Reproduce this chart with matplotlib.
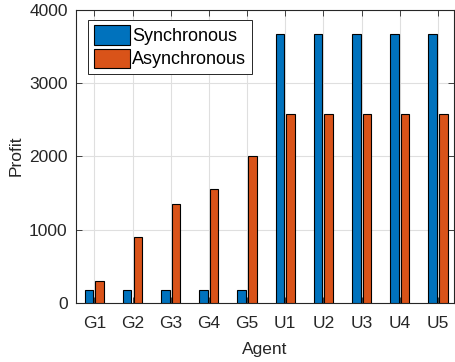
import numpy as np
import matplotlib
matplotlib.use('Agg')
from matplotlib import pyplot as plt

agents = ['G1', 'G2', 'G3', 'G4', 'G5', 'U1', 'U2', 'U3', 'U4', 'U5']
synchronous = [180, 180, 180, 180, 180, 3670, 3670, 3670, 3670, 3670]
asynchronous = [300, 900, 1350, 1550, 2000, 2570, 2570, 2570, 2570, 2570]

plt.rcParams['font.family'] = ['Liberation Sans', 'DejaVu Sans']
plt.rcParams['font.size'] = 12.5

axis_color = '#262626'

fig = plt.figure(figsize=(4.56, 3.62), dpi=100)
ax = fig.add_axes([76 / 456, 1 - 303 / 362, 378 / 456, 293.5 / 362])

x = np.arange(1, len(agents) + 1)
w = 0.225
off = 0.139
ax.bar(x - off, synchronous, w, color='#0072BD', edgecolor='black',
       linewidth=0.8, label='Synchronous', zorder=3)
ax.bar(x + off, asynchronous, w, color='#D95319', edgecolor='black',
       linewidth=0.8, label='Asynchronous', zorder=3)

ax.set_xlim(0.52, 10.42)
ax.set_ylim(0, 4000)
ax.set_xticks(x)
ax.set_xticklabels(agents)
ax.set_yticks([0, 1000, 2000, 3000, 4000])
ax.set_xlabel('Agent', color=axis_color, labelpad=8)
ax.set_ylabel('Profit', color=axis_color, labelpad=4)

ax.grid(True, color='#dfdfdf', linewidth=0.8, zorder=0)
ax.set_axisbelow(True)
ax.tick_params(direction='in', length=4, width=0.6, colors=axis_color,
               top=True, right=True, labelcolor=axis_color, pad=6)
ax.tick_params(axis='x', pad=9)
for s in ax.spines.values():
    s.set_color(axis_color)
    s.set_linewidth(0.8)

leg = ax.legend(loc='upper left', bbox_to_anchor=(0.0325, 0.964), frameon=True,
                fancybox=False, borderpad=0.3, handlelength=2.0,
                handleheight=1.25, handletextpad=0.13, labelspacing=0.2,
                borderaxespad=0, prop={'size': 13})
leg.get_frame().set_edgecolor(axis_color)
leg.get_frame().set_linewidth(0.7)
leg.get_frame().set_alpha(1)

plt.savefig('out.png', dpi=100)
